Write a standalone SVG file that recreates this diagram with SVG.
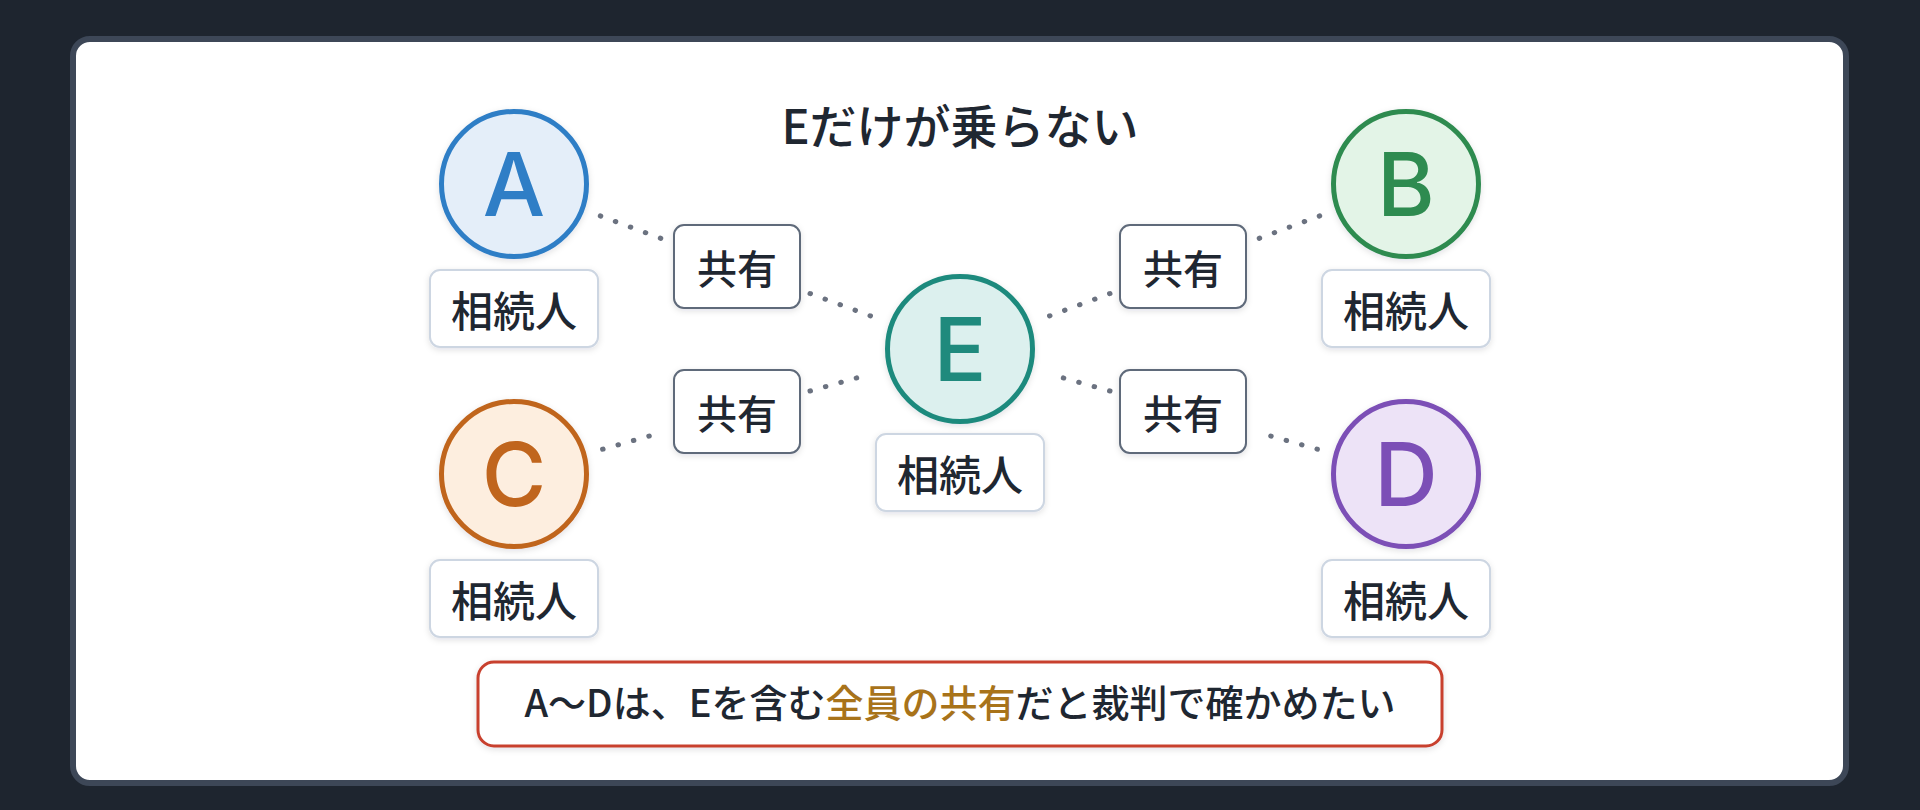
<svg xmlns="http://www.w3.org/2000/svg" width="1920" height="810" viewBox="0 0 1920 810">
  <defs>
    <filter id="sh" x="-20%" y="-20%" width="140%" height="150%">
      <feDropShadow dx="0" dy="2" stdDeviation="3" flood-color="#0f172a" flood-opacity="0.12"/>
    </filter>
    <style>
      .t { font-family: "Noto Sans CJK JP", "Noto Sans", sans-serif; fill: #1f2731; }
      .title { font-size: 47px; font-weight: 500; }
      .lbl { font-size: 42px; font-weight: 500; }
      .share { font-size: 40px; font-weight: 500; }
      .note { font-size: 38px; font-weight: 500; }
      .hl { fill: #a8731a; }
      .letter { font-family: Inter, "Noto Sans", sans-serif; font-size: 88px; font-weight: 500; }
      .lblbox { fill: #ffffff; stroke: #cdd6e2; stroke-width: 2; }
      .sharebox { fill: #ffffff; stroke: #5f6a7a; stroke-width: 2; }
      .conn { fill: none; stroke: #6b7280; stroke-width: 5; stroke-linecap: round; stroke-dasharray: 0.5 15.5; }
      .circ { stroke-width: 5; }
    </style>
  </defs>

  <rect x="0" y="0" width="1920" height="810" fill="#1e252f"/>
  <rect x="73" y="39" width="1773" height="744" rx="17" fill="#ffffff" stroke="#3d4757" stroke-width="6"/>

  <text class="t title" x="960" y="123" text-anchor="middle" dominant-baseline="central">Eだけが乗らない</text>

  <g id="connectors">
    <line class="conn" x1="600.3" y1="215.9" x2="664" y2="239.5"/>
    <line class="conn" x1="810" y1="293.5" x2="873.7" y2="317.1"/>
    <line class="conn" x1="602.6" y1="449.2" x2="664" y2="431.9"/>
    <line class="conn" x1="810" y1="391" x2="871.4" y2="373.8"/>
    <line class="conn" x1="1319.7" y1="215.9" x2="1256" y2="239.5"/>
    <line class="conn" x1="1110" y1="293.5" x2="1046.3" y2="317.1"/>
    <line class="conn" x1="1317.4" y1="449.2" x2="1256" y2="431.9"/>
    <line class="conn" x1="1110" y1="391" x2="1048.6" y2="373.8"/>
  </g>

  <g id="share-AE">
    <rect class="sharebox" x="674" y="225" width="126" height="83" rx="10" filter="url(#sh)"/>
    <text class="t share" x="737" y="266.5" text-anchor="middle" dominant-baseline="central">共有</text>
  </g>
  <g id="share-CE">
    <rect class="sharebox" x="674" y="370" width="126" height="83" rx="10" filter="url(#sh)"/>
    <text class="t share" x="737" y="411.5" text-anchor="middle" dominant-baseline="central">共有</text>
  </g>
  <g id="share-BE">
    <rect class="sharebox" x="1120" y="225" width="126" height="83" rx="10" filter="url(#sh)"/>
    <text class="t share" x="1183" y="266.5" text-anchor="middle" dominant-baseline="central">共有</text>
  </g>
  <g id="share-DE">
    <rect class="sharebox" x="1120" y="370" width="126" height="83" rx="10" filter="url(#sh)"/>
    <text class="t share" x="1183" y="411.5" text-anchor="middle" dominant-baseline="central">共有</text>
  </g>

  <g id="node-A">
    <circle class="circ" cx="514" cy="184" r="72.5" fill="#e4eef9" stroke="#2f7ec6" filter="url(#sh)"/>
    <text class="letter" x="514" y="216" text-anchor="middle" fill="#2f7ec6">A</text>
    <rect class="lblbox" x="430" y="270" width="168" height="77" rx="10" filter="url(#sh)"/>
    <text class="t lbl" x="514" y="308.5" text-anchor="middle" dominant-baseline="central">相続人</text>
  </g>
  <g id="node-B">
    <circle class="circ" cx="1406" cy="184" r="72.5" fill="#e3f4e7" stroke="#2e8b50" filter="url(#sh)"/>
    <text class="letter" x="1406" y="216" text-anchor="middle" fill="#2e8b50">B</text>
    <rect class="lblbox" x="1322" y="270" width="168" height="77" rx="10" filter="url(#sh)"/>
    <text class="t lbl" x="1406" y="308.5" text-anchor="middle" dominant-baseline="central">相続人</text>
  </g>
  <g id="node-C">
    <circle class="circ" cx="514" cy="474" r="72.5" fill="#fdeedf" stroke="#c0651d" filter="url(#sh)"/>
    <text class="letter" x="514" y="506" text-anchor="middle" fill="#c0651d">C</text>
    <rect class="lblbox" x="430" y="560" width="168" height="77" rx="10" filter="url(#sh)"/>
    <text class="t lbl" x="514" y="598.5" text-anchor="middle" dominant-baseline="central">相続人</text>
  </g>
  <g id="node-D">
    <circle class="circ" cx="1406" cy="474" r="72.5" fill="#ede3f7" stroke="#7c4fb6" filter="url(#sh)"/>
    <text class="letter" x="1406" y="506" text-anchor="middle" fill="#7c4fb6">D</text>
    <rect class="lblbox" x="1322" y="560" width="168" height="77" rx="10" filter="url(#sh)"/>
    <text class="t lbl" x="1406" y="598.5" text-anchor="middle" dominant-baseline="central">相続人</text>
  </g>
  <g id="node-E">
    <circle class="circ" cx="960" cy="349" r="72.5" fill="#dcf0ee" stroke="#1f8a7d" filter="url(#sh)"/>
    <text class="letter" x="960" y="381" text-anchor="middle" fill="#1f8a7d">E</text>
    <rect class="lblbox" x="876" y="434" width="168" height="77" rx="10" filter="url(#sh)"/>
    <text class="t lbl" x="960" y="472.5" text-anchor="middle" dominant-baseline="central">相続人</text>
  </g>

  <g id="note">
    <rect x="478" y="662" width="964" height="84" rx="16" fill="#ffffff" stroke="#c8412e" stroke-width="3" filter="url(#sh)"/>
    <text class="t note" x="960" y="717" text-anchor="middle">A〜Dは、Eを含む<tspan class="hl">全員の共有</tspan>だと裁判で確かめたい</text>
  </g>
</svg>
